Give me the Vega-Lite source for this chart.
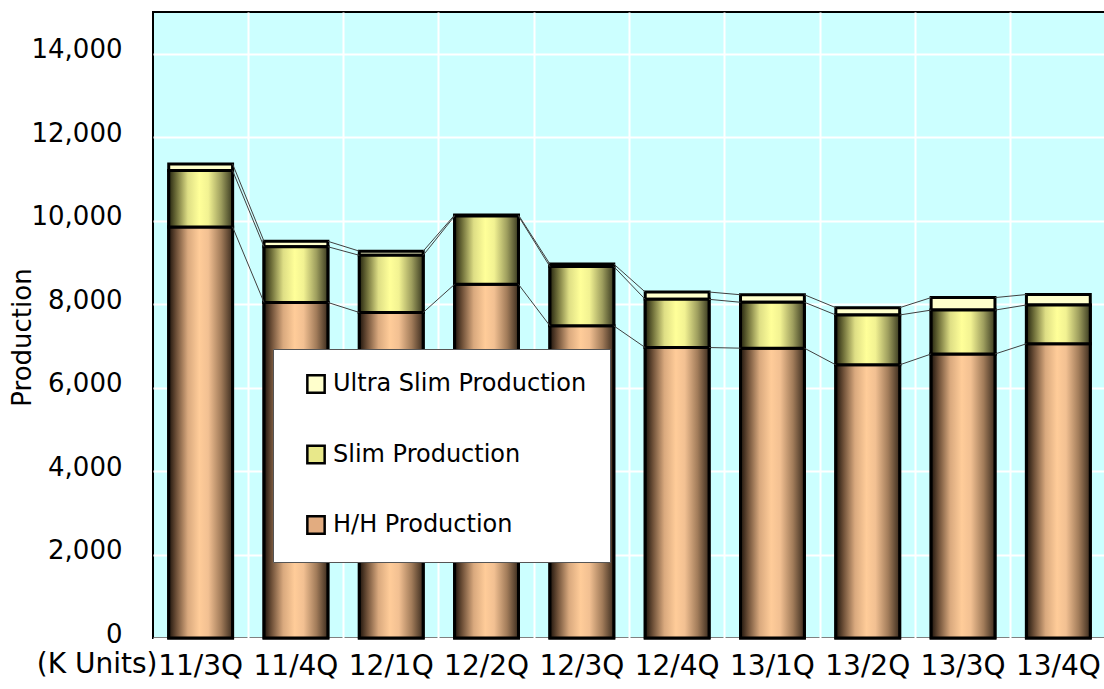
{
  "$schema": "https://vega.github.io/schema/vega-lite/v6.json",
  "width": 953,
  "height": 626,
  "autosize": {"type": "none"},
  "padding": {"left": 153, "top": 12, "right": 0, "bottom": 51},
  "background": "white",
  "data": {"values": [
    {"quarter": "11/3Q", "qi": 1, "series": "H/H Production", "so": 1, "value": 9850},
    {"quarter": "11/3Q", "qi": 1, "series": "Slim Production", "so": 2, "value": 1350},
    {"quarter": "11/3Q", "qi": 1, "series": "Ultra Slim Production", "so": 3, "value": 160},
    {"quarter": "11/4Q", "qi": 2, "series": "H/H Production", "so": 1, "value": 8040},
    {"quarter": "11/4Q", "qi": 2, "series": "Slim Production", "so": 2, "value": 1335},
    {"quarter": "11/4Q", "qi": 2, "series": "Ultra Slim Production", "so": 3, "value": 130},
    {"quarter": "12/1Q", "qi": 3, "series": "H/H Production", "so": 1, "value": 7800},
    {"quarter": "12/1Q", "qi": 3, "series": "Slim Production", "so": 2, "value": 1370},
    {"quarter": "12/1Q", "qi": 3, "series": "Ultra Slim Production", "so": 3, "value": 100},
    {"quarter": "12/2Q", "qi": 4, "series": "H/H Production", "so": 1, "value": 8475},
    {"quarter": "12/2Q", "qi": 4, "series": "Slim Production", "so": 2, "value": 1635},
    {"quarter": "12/2Q", "qi": 4, "series": "Ultra Slim Production", "so": 3, "value": 25},
    {"quarter": "12/3Q", "qi": 5, "series": "H/H Production", "so": 1, "value": 7480},
    {"quarter": "12/3Q", "qi": 5, "series": "Slim Production", "so": 2, "value": 1420},
    {"quarter": "12/3Q", "qi": 5, "series": "Ultra Slim Production", "so": 3, "value": 60},
    {"quarter": "12/4Q", "qi": 6, "series": "H/H Production", "so": 1, "value": 6960},
    {"quarter": "12/4Q", "qi": 6, "series": "Slim Production", "so": 2, "value": 1155},
    {"quarter": "12/4Q", "qi": 6, "series": "Ultra Slim Production", "so": 3, "value": 175},
    {"quarter": "13/1Q", "qi": 7, "series": "H/H Production", "so": 1, "value": 6945},
    {"quarter": "13/1Q", "qi": 7, "series": "Slim Production", "so": 2, "value": 1100},
    {"quarter": "13/1Q", "qi": 7, "series": "Ultra Slim Production", "so": 3, "value": 180},
    {"quarter": "13/2Q", "qi": 8, "series": "H/H Production", "so": 1, "value": 6545},
    {"quarter": "13/2Q", "qi": 8, "series": "Slim Production", "so": 2, "value": 1195},
    {"quarter": "13/2Q", "qi": 8, "series": "Ultra Slim Production", "so": 3, "value": 175},
    {"quarter": "13/3Q", "qi": 9, "series": "H/H Production", "so": 1, "value": 6805},
    {"quarter": "13/3Q", "qi": 9, "series": "Slim Production", "so": 2, "value": 1052},
    {"quarter": "13/3Q", "qi": 9, "series": "Ultra Slim Production", "so": 3, "value": 300},
    {"quarter": "13/4Q", "qi": 10, "series": "H/H Production", "so": 1, "value": 7050},
    {"quarter": "13/4Q", "qi": 10, "series": "Slim Production", "so": 2, "value": 930},
    {"quarter": "13/4Q", "qi": 10, "series": "Ultra Slim Production", "so": 3, "value": 250}
  ]},
  "transform": [
    {"stack": "value", "groupby": ["quarter"], "sort": [{"field": "so", "order": "ascending"}], "as": ["y0", "y1"]}
  ],
  "encoding": {
    "x": {
      "field": "quarter", "type": "nominal", "title": "(K Units)",
      "scale": {"domain": ["11/3Q","11/4Q","12/1Q","12/2Q","12/3Q","12/4Q","13/1Q","13/2Q","13/3Q","13/4Q"], "paddingInner": 0.33, "paddingOuter": 0.165},
      "axis": {
        "bandPosition": 1.246, "grid": true, "gridColor": "white", "gridWidth": 2,
        "domain": false, "ticks": false, "labelAngle": 0,
        "labelFont": "DejaVu Sans", "labelFontSize": 28, "labelColor": "black", "labelPadding": 14,
        "titleFont": "DejaVu Sans", "titleFontSize": 28, "titleFontWeight": "normal", "titleColor": "black",
        "titleAlign": "right", "titleBaseline": "top", "titleX": 4, "titleY": 12
      }
    },
    "y": {
      "field": "y1", "type": "quantitative", "title": "Production",
      "scale": {"domain": [0, 15000], "nice": false},
      "axis": {
        "values": [0, 2000, 4000, 6000, 8000, 10000, 12000, 14000], "format": ",.0f",
        "grid": true, "gridColor": "white", "gridWidth": 2,
        "domain": false, "ticks": false,
        "labelFont": "DejaVu Sans", "labelFontSize": 26, "labelColor": "black", "labelPadding": 31, "labelOffset": -4,
        "titleFont": "DejaVu Sans", "titleFontSize": 26, "titleFontWeight": "normal", "titleColor": "black",
        "titleAngle": 270, "titleAlign": "center", "titleBaseline": "middle", "titleX": -131, "titleY": 325
      }
    },
    "y2": {"field": "y0"}
  },
  "layer": [
    {
      "mark": {"type": "bar", "stroke": "black", "strokeWidth": 3},
      "encoding": {
        "color": {
          "field": "series", "type": "nominal",
          "scale": {"domain": ["Ultra Slim Production", "Slim Production", "H/H Production"], "range": ["#ffffcc", "#e8e88a", "#e2ac80"]},
          "legend": {
            "orient": "none", "legendX": 120, "legendY": 337, "title": null,
            "fillColor": "white", "strokeColor": "#555555", "padding": 23,
            "symbolType": "square", "symbolSize": 300, "symbolOffset": 8,
            "symbolStrokeColor": "black", "symbolStrokeWidth": 2.5, "symbolOpacity": 1,
            "labelFont": "DejaVu Sans", "labelFontSize": 24, "labelColor": "black", "labelOffset": 5,
            "rowPadding": 42.5, "labelLimit": 0, "labelExpr": "datum.label + '\u00a0\u00a0'"
          }
        }
      }
    },
    {
      "transform": [{"filter": "datum.series === 'H/H Production'"}],
      "mark": {"type": "bar", "stroke": "black", "strokeWidth": 3,
        "fill": {"gradient": "linear", "x1": 0, "y1": 0, "x2": 1, "y2": 0, "stops": [
          {"offset": 0, "color": "#1e140c"},
          {"offset": 0.12, "color": "#6e5038"},
          {"offset": 0.3, "color": "#d9a97e"},
          {"offset": 0.48, "color": "#ffcc99"},
          {"offset": 0.62, "color": "#f2c092"},
          {"offset": 0.82, "color": "#a27c5a"},
          {"offset": 1, "color": "#3c2c1e"}
        ]}
      }
    },
    {
      "transform": [{"filter": "datum.series === 'Slim Production'"}],
      "mark": {"type": "bar", "stroke": "black", "strokeWidth": 3,
        "fill": {"gradient": "linear", "x1": 0, "y1": 0, "x2": 1, "y2": 0, "stops": [
          {"offset": 0, "color": "#24240f"},
          {"offset": 0.12, "color": "#6f6f3a"},
          {"offset": 0.3, "color": "#dede85"},
          {"offset": 0.48, "color": "#ffff99"},
          {"offset": 0.62, "color": "#f2f292"},
          {"offset": 0.82, "color": "#9e9e5e"},
          {"offset": 1, "color": "#3a3a20"}
        ]}
      }
    },
    {
      "transform": [
        {"window": [{"op": "lead", "field": "y1", "as": "ny"}, {"op": "lead", "field": "quarter", "as": "nq"}], "groupby": ["series"], "sort": [{"field": "qi", "order": "ascending"}]},
        {"filter": "datum.nq != null"}
      ],
      "mark": {"type": "rule", "color": "#404040", "strokeWidth": 1},
      "encoding": {
        "x": {"field": "quarter", "type": "nominal", "bandPosition": 1, "title": "(K Units)"},
        "x2": {"field": "nq", "bandPosition": 0},
        "y": {"field": "y1", "type": "quantitative", "title": "Production"},
        "y2": {"field": "ny"}
      }
    }
  ],
  "config": {
    "view": {"fill": "#ccffff", "stroke": "black", "strokeWidth": 2}
  }
}
